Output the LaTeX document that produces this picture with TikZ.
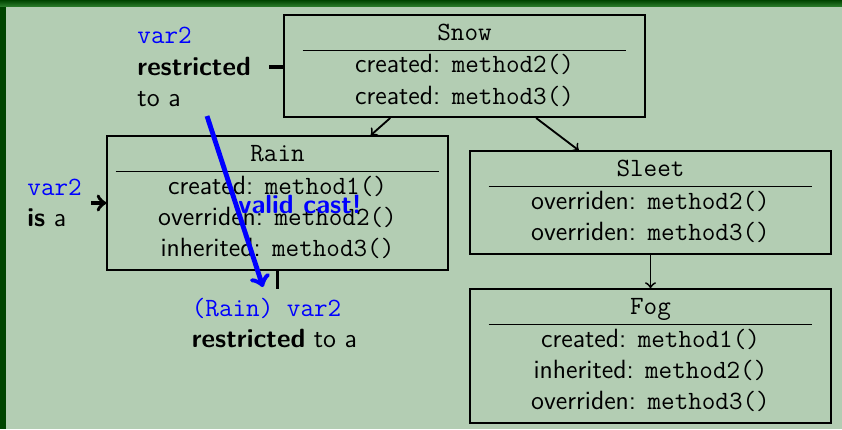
\documentclass[tikz,border=0pt,11pt]{standalone}
\usepackage{array}
\definecolor{slidebg}{RGB}{179,205,179}
\definecolor{slidedark}{RGB}{0,68,0}
\definecolor{slidetop}{RGB}{40,120,40}
\tikzstyle{classbox}=[draw, thick, inner xsep=3.65pt, inner ysep=1.5pt]
\tikzstyle{note}=[inner sep=0pt, align=left]
\newcolumntype{C}{>{\centering\arraybackslash}p{128pt}}

\begin{document}
\begin{tikzpicture}[x=0.152mm, y=-0.152mm, font=\fontsize{11.4}{13.6}\selectfont\sffamily]
% Slide
    \fill[slidebg] (0,0) rectangle (842,429);
    \fill[slidedark] (0,0) rectangle (6,429);
    \shade[top color=slidedark, bottom color=slidetop] (0,0) rectangle (842,6);
    \useasboundingbox (0,0) rectangle (842,429);
% Classes
    \node[classbox, minimum width=156.4pt] (snow) at (464.5,66) {\begin{tabular}{C}
        \texttt{Snow}\\ \hline
        created: \texttt{method2()}\\
        created: \texttt{method3()}
    \end{tabular}};
    \node[classbox] (rain) at (277.5,203) {\begin{tabular}{C}
        \texttt{Rain}\\ \hline
        created: \texttt{method1()}\\
        overriden: \texttt{method2()}\\
        inherited: \texttt{method3()}
    \end{tabular}};
    \node[classbox, minimum width=156.4pt] (sleet) at (650.5,202.5) {\begin{tabular}{C}
        \texttt{Sleet}\\ \hline
        overriden: \texttt{method2()}\\
        overriden: \texttt{method3()}
    \end{tabular}};
    \node[classbox, minimum width=156.4pt] (fog) at (650.5,356) {\begin{tabular}{C}
        \texttt{Fog}\\ \hline
        created: \texttt{method1()}\\
        inherited: \texttt{method2()}\\
        overriden: \texttt{method3()}
    \end{tabular}};
% Inheritance
    \draw[thick, ->] (snow.215) -- (rain.36);
    \draw[thick, ->] (snow.324) -- (sleet.144);
    \draw[thick, ->] (sleet) -- (fog);
% Labels
    \node[note, anchor=west] (restr) at (137,67) {\textcolor{blue}{\texttt{var2}}\\ \textbf{restricted}\\ to a};
    \node[note, anchor=west] (isa) at (27,203) {\textcolor{blue}{\texttt{var2}}\\ \textbf{is} a};
    \node[note, inner sep=3.65pt] (cast) at (274.5,323) {\textcolor{blue}{\texttt{(Rain) var2}}\\ \textbf{restricted} to a};
    \draw[ultra thick, shorten <=7.7pt] (restr.east) -- (restr.east -| snow.west);
    \draw[ultra thick, ->, shorten <=4pt] (isa.east) -- (isa.east -| rain.west);
    \draw[ultra thick] (rain.south) -- (rain.south |- cast.north);
% Cast
    \coordinate (castfrom) at (207,116);
    \coordinate (castto) at (263,287);
    \draw[line width=2.1pt, blue, ->] (castfrom) -- (castto);
    \node[font=\fontsize{11.4}{13.6}\selectfont\sffamily\bfseries, text=blue] (valid) at (300,204) {valid cast!};
\end{tikzpicture}
\end{document}
